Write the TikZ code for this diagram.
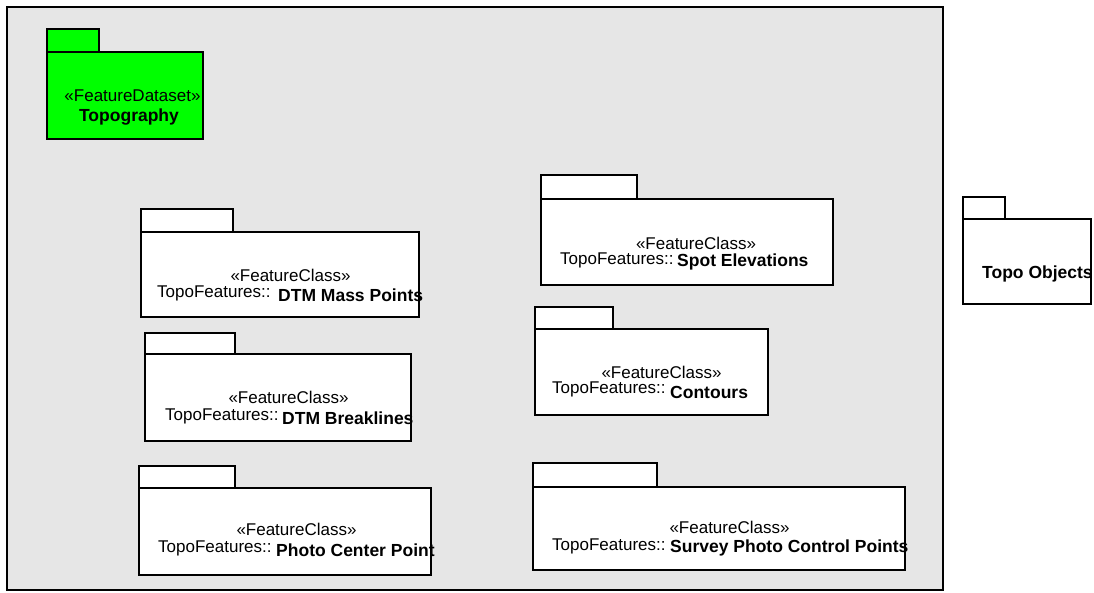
\documentclass[tikz,border=0pt]{standalone}
\usepackage{fontspec}
\setmainfont{Liberation Sans}
\usetikzlibrary{fit}

\definecolor{framegray}{HTML}{E6E6E6}
\definecolor{pkggreen}{HTML}{00FF00}

\tikzset{
  pkgpart/.style={draw=black, line width=1.8pt, fill=white, inner sep=0pt},
  dsetpart/.style={pkgpart, fill=pkggreen},
  stereo/.style={inner sep=0pt, anchor=base, font=\fontsize{17}{20}\selectfont},
  nsprefix/.style={inner sep=0pt, anchor=base west, font=\fontsize{17}{20}\selectfont},
  pkgname/.style={inner sep=0pt, anchor=base west, font=\fontsize{17.5}{20}\selectfont\bfseries},
}

\begin{document}
\begin{tikzpicture}[x=1pt, y=-1pt]
  % page extent
  \path[use as bounding box, fill=white] (0,0) rectangle (1094,592);

  % enclosing diagram frame
  \node[draw=black, line width=1.8pt, fill=framegray, inner sep=0pt,
        fit={(7,7)(943,590)}] (frame) {};

  % FeatureDataset package: Topography
  \node[dsetpart, fit={(47,29)(99,52)}] (topoTab) {};
  \node[dsetpart, fit={(47,52)(203,139)}] (topo) {};
  \node[stereo] (topoSt) at (132.5,101) {«FeatureDataset»};
  \node[stereo, font=\fontsize{17.5}{20}\selectfont\bfseries] (topoNm) at (129,121) {Topography};

  % DTM Mass Points
  \node[pkgpart, fit={(141,209)(233,232)}] (massTab) {};
  \node[pkgpart, fit={(141,232)(419,317)}] (mass) {};
  \node[stereo] (massSt) at (290.5,281) {«FeatureClass»};
  \node[nsprefix] (massNs) at (157,297) {TopoFeatures::};
  \node[pkgname] (massNm) at (278,301) {DTM Mass Points};

  % Spot Elevations
  \node[pkgpart, fit={(541,175)(637,199)}] (spotTab) {};
  \node[pkgpart, fit={(541,199)(833,285)}] (spot) {};
  \node[stereo] (spotSt) at (696,249) {«FeatureClass»};
  \node[nsprefix] (spotNs) at (560,264) {TopoFeatures::};
  \node[pkgname] (spotNm) at (677,266) {Spot Elevations};

  % Contours
  \node[pkgpart, fit={(535,307)(613,329)}] (contTab) {};
  \node[pkgpart, fit={(535,329)(768,415)}] (cont) {};
  \node[stereo] (contSt) at (661.5,378) {«FeatureClass»};
  \node[nsprefix] (contNs) at (552,393) {TopoFeatures::};
  \node[pkgname] (contNm) at (670,398) {Contours};

  % DTM Breaklines
  \node[pkgpart, fit={(145,333)(235,354)}] (brkTab) {};
  \node[pkgpart, fit={(145,354)(411,441)}] (brk) {};
  \node[stereo] (brkSt) at (288.5,403) {«FeatureClass»};
  \node[nsprefix] (brkNs) at (165,420) {TopoFeatures::};
  \node[pkgname] (brkNm) at (282,424) {DTM Breaklines};

  % Photo Center Point
  \node[pkgpart, fit={(139,466)(235,488)}] (phcTab) {};
  \node[pkgpart, fit={(139,488)(431,575)}] (phc) {};
  \node[stereo] (phcSt) at (296.5,535) {«FeatureClass»};
  \node[nsprefix] (phcNs) at (158,552) {TopoFeatures::};
  \node[pkgname] (phcNm) at (276,556) {Photo Center Point};

  % Survey Photo Control Points
  \node[pkgpart, fit={(533,463)(657,487)}] (spcTab) {};
  \node[pkgpart, fit={(533,487)(905,570)}] (spc) {};
  \node[stereo] (spcSt) at (729.5,533) {«FeatureClass»};
  \node[nsprefix] (spcNs) at (552,550) {TopoFeatures::};
  \node[pkgname] (spcNm) at (670,552) {Survey Photo Control Points};

  % Topo Objects package outside the frame
  \node[pkgpart, fit={(963,197)(1005,219)}] (objTab) {};
  \node[pkgpart, fit={(963,219)(1091,304)}] (obj) {};
  \node[pkgname] (objNm) at (982,278) {Topo Objects};
\end{tikzpicture}
\end{document}
